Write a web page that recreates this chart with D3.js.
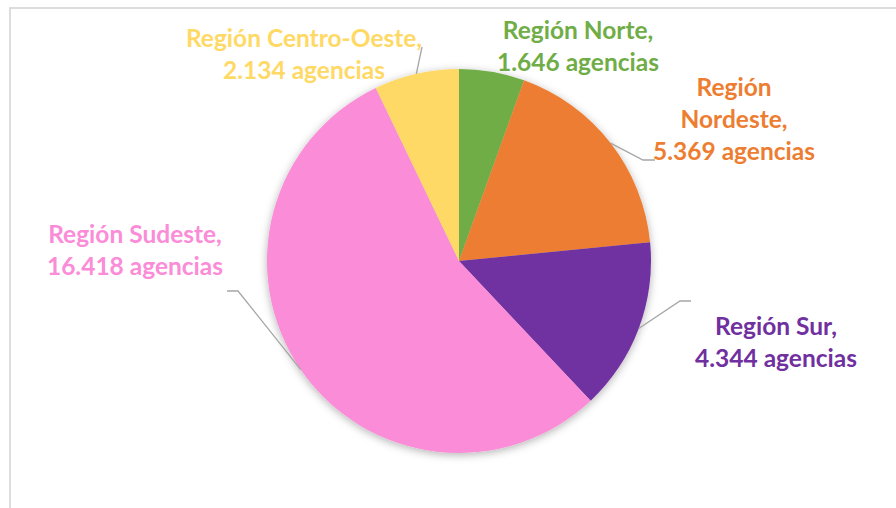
<!DOCTYPE html>
<html>
<head>
<meta charset="utf-8">
<script src="https://cdn.jsdelivr.net/npm/d3@7"></script>
<style>
  body { margin: 0; background: #fff; }
  svg { display: block; }
</style>
</head>
<body>
<script>
var WIDTH = 896;
var HEIGHT = 508;

// data
var regions = ["Región Norte", "Región Nordeste", "Región Sur", "Región Sudeste", "Región Centro-Oeste"];
var agencias = [1646, 5369, 4344, 16418, 2134];
var valueLabels = ["1.646", "5.369", "4.344", "16.418", "2.134"];
var colors = ["#70AD47", "#ED7D31", "#7030A0", "#FB8CD7", "#FFD966"];

// label layout: centre x, first baseline, line breaks, leader elbow
var labelLayout = [
  { x: 578, y: 39, lines: ["Región Norte,", "1.646 agencias"], elbow: null },
  { x: 734, y: 96, lines: ["Región", "Nordeste,", "5.369 agencias"], elbow: [[643, 160], [655, 160]] },
  { x: 776, y: 335, lines: ["Región Sur,", "4.344 agencias"], elbow: [[680, 301], [691, 301]] },
  { x: 135, y: 243, lines: ["Región Sudeste,", "16.418 agencias"], elbow: [[238, 291], [227, 291]] },
  { x: 304, y: 47, lines: ["Región Centro-Oeste,", "2.134 agencias"], elbow: [[422, 47]] }
];

var cx = 459, cy = 261, R = 192;
var lineH = 32;

var svg = d3.select("body")
  .append("svg")
  .attr("width", WIDTH)
  .attr("height", HEIGHT);

var defs = svg.append("defs");
var f = defs.append("filter")
  .attr("id", "shadow")
  .attr("x", "-20%").attr("y", "-20%")
  .attr("width", "140%").attr("height", "140%");
f.append("feDropShadow")
  .attr("dx", 0).attr("dy", 2)
  .attr("stdDeviation", 4)
  .attr("flood-color", "#000")
  .attr("flood-opacity", 0.3);

// chart frame
svg.append("rect")
  .attr("x", 10).attr("y", 8)
  .attr("width", WIDTH + 20).attr("height", HEIGHT + 20)
  .attr("fill", "none")
  .attr("stroke", "#d9d9d9")
  .attr("stroke-width", 1.75);

var data = regions.map(function (r, i) {
  return { name: r, value: agencias[i], color: colors[i], layout: labelLayout[i] };
});

var pie = d3.pie()
  .sort(null)
  .value(function (d) { return d.value; });

var arcs = pie(data);

var arc = d3.arc().innerRadius(0).outerRadius(R);
var edge = d3.arc().innerRadius(R).outerRadius(R);

var g = svg.append("g")
  .attr("transform", "translate(" + cx + "," + cy + ")");

var pieG = g.append("g").attr("filter", "url(#shadow)");
pieG.selectAll("path")
  .data(arcs)
  .enter()
  .append("path")
  .attr("d", arc)
  .attr("fill", function (d) { return d.data.color; });

// leader lines
g.selectAll("polyline")
  .data(arcs.filter(function (d) { return d.data.layout.elbow; }))
  .enter()
  .append("polyline")
  .attr("points", function (d) {
    var p = edge.centroid(d);
    var pts = [p].concat(d.data.layout.elbow.map(function (e) { return [e[0] - cx, e[1] - cy]; }));
    return pts.map(function (q) { return q.join(","); }).join(" ");
  })
  .attr("fill", "none")
  .attr("stroke", "#a6a6a6")
  .attr("stroke-width", 1.3);

// labels
var labels = svg.selectAll("text.lbl")
  .data(data)
  .enter()
  .append("text")
  .attr("class", "lbl")
  .attr("text-anchor", "middle")
  .attr("font-family", "Lato, 'Open Sans', sans-serif")
  .attr("font-weight", "bold")
  .attr("font-size", "24.5px")
  .attr("fill", function (d) { return d.color; });

labels.each(function (d) {
  var t = d3.select(this);
  d.layout.lines.forEach(function (line, i) {
    t.append("tspan")
      .attr("x", d.layout.x)
      .attr("y", d.layout.y + i * lineH)
      .text(line);
  });
});
</script>
</body>
</html>
